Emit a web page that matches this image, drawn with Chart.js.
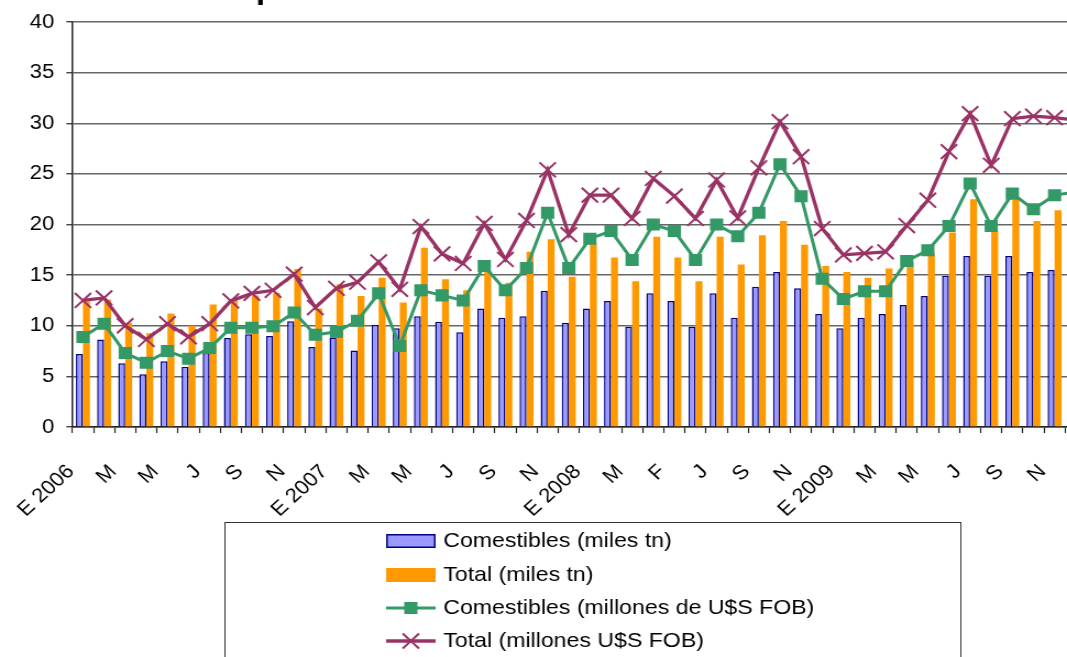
<!DOCTYPE html>
<html>
<head>
<meta charset="utf-8">
<script src="https://cdn.jsdelivr.net/npm/chart.js@4/dist/chart.umd.min.js"></script>
<style>
html,body{margin:0;padding:0;overflow:hidden;width:1067px;height:657px;background:#fff}
#wrap{position:absolute;left:0;top:-30px;width:1000px;height:700px;transform:scaleX(1.1);transform-origin:0 0}
canvas{display:block}
</style>
</head>
<body>
<div id="wrap"><canvas id="c" width="1000" height="700" style="width:1000px;height:700px"></canvas></div>
<script>
const chartTitle = "Exportaciones de Comestibles 2006-2009";

const months = ["E 2006","F","M","A","M","J","J","A","S","O","N","D",
  "E 2007","F","M","A","M","J","J","A","S","O","N","D",
  "E 2008","F","M","A","F","J","J","A","S","O","N","D",
  "E 2009","F","M","A","M","J","J","A","S","O","N","D"];

const comestiblesTn = [7.2,8.65,6.3,5.2,6.5,5.95,7.3,8.8,9.15,9.0,10.45,7.9,
  8.85,7.55,10.1,9.75,10.95,10.4,9.35,11.7,10.8,10.95,13.45,10.3,
  11.7,12.45,9.9,13.2,12.45,9.9,13.2,10.8,13.85,15.3,13.7,11.15,
  9.75,10.8,11.15,12.05,12.95,14.95,16.9,14.95,16.9,15.3,15.5,15.0];

const totalTn = [12.4,12.6,10.3,9.25,11.2,10.0,12.1,12.5,13.0,13.25,15.6,11.7,
  14.1,12.95,14.75,12.3,17.7,14.6,13.5,15.4,14.25,17.3,18.55,14.85,
  18.1,16.75,14.4,18.8,16.75,14.4,18.8,16.05,18.95,20.35,18.0,15.9,
  15.3,14.75,15.65,16.3,17.2,19.2,22.5,19.3,22.5,20.35,21.4,21.0];

const comestiblesUsd = [8.9,10.2,7.3,6.35,7.5,6.75,7.8,9.8,9.8,9.95,11.3,9.1,
  9.4,10.5,13.2,8.0,13.5,13.0,12.5,15.9,13.5,15.7,21.15,15.7,
  18.6,19.35,16.5,20.0,19.35,16.5,20.0,18.85,21.15,25.95,22.8,14.65,
  12.65,13.4,13.4,16.4,17.45,19.85,24.05,19.85,23.05,21.5,22.9,23.2];

const totalUsd = [12.5,12.75,10.0,8.65,10.2,8.9,10.2,12.45,13.2,13.5,15.1,11.8,
  13.7,14.3,16.3,13.6,19.8,17.1,16.15,20.1,16.55,20.4,25.4,19.0,
  22.9,22.9,20.6,24.55,22.8,20.6,24.4,20.65,25.6,30.15,26.7,19.6,
  17.0,17.15,17.3,19.9,22.4,27.2,30.95,25.85,30.45,30.7,30.55,30.3];

const yTicks = [0,5,10,15,20,25,30,35,40];

const FONT = "'Liberation Sans', Arial, Helvetica, sans-serif";

const boxLegend = {
  id: 'boxLegend',
  afterDraw(chart) {
    const ctx = chart.ctx;
    const ds = chart.data.datasets;
    ctx.save();
    ctx.strokeStyle = '#333';
    ctx.lineWidth = 1;
    ctx.strokeRect(204.5, 552.5, 669, 220);
    const sx = 351, sw = 45, tx = 403;
    const ys = [571, 605, 638, 671];
    ctx.font = "21px " + FONT;
    ctx.textBaseline = 'middle';
    ctx.textAlign = 'left';
    ds.forEach((d, i) => {
      const y = ys[i];
      if (d.type === 'bar') {
        ctx.fillStyle = d.backgroundColor;
        ctx.fillRect(sx, y - 7, sw, 14);
        if (d.borderWidth) {
          ctx.strokeStyle = d.borderColor;
          ctx.lineWidth = 1.5;
          ctx.strokeRect(sx + 0.75, y - 6.25, sw - 1.5, 12.5);
        }
      } else {
        ctx.strokeStyle = d.borderColor;
        ctx.lineWidth = d.borderWidth;
        ctx.beginPath();
        ctx.moveTo(sx, y); ctx.lineTo(sx + sw, y);
        ctx.stroke();
        if (d.pointStyle === 'rect') {
          ctx.fillStyle = d.backgroundColor;
          const s = d.pointRadius * Math.SQRT1_2;
          ctx.fillRect(sx + sw / 2 - s, y - s, 2 * s, 2 * s);
        } else {
          ctx.strokeStyle = d.borderColor;
          ctx.lineWidth = d.pointBorderWidth;
          const r = d.pointRadius * Math.SQRT1_2;
          ctx.beginPath();
          ctx.moveTo(sx + sw / 2 - r, y - r); ctx.lineTo(sx + sw / 2 + r, y + r);
          ctx.moveTo(sx + sw / 2 - r, y + r); ctx.lineTo(sx + sw / 2 + r, y - r);
          ctx.stroke();
        }
      }
      ctx.fillStyle = '#000';
      ctx.fillText(d.label, tx, y);
    });
    ctx.restore();
  }
};

new Chart(document.getElementById('c'), {
  type: 'bar',
  data: {
    labels: months,
    datasets: [
      { type: 'bar', label: 'Comestibles (miles tn)', data: comestiblesTn,
        backgroundColor: '#9999FF', borderColor: '#000080', borderWidth: 1.5,
        categoryPercentage: 0.66, barPercentage: 1.0, order: 3 },
      { type: 'bar', label: 'Total (miles tn)', data: totalTn,
        backgroundColor: '#FF9900', borderWidth: 0,
        categoryPercentage: 0.66, barPercentage: 1.0, order: 4 },
      { type: 'line', label: 'Comestibles (millones de U$S FOB)', data: comestiblesUsd,
        borderColor: '#339966', backgroundColor: '#339966', borderWidth: 3,
        pointStyle: 'rect', pointRadius: 8.5, pointBorderWidth: 0,
        pointBackgroundColor: '#339966', tension: 0, order: 2 },
      { type: 'line', label: 'Total (millones U$S FOB)', data: totalUsd,
        borderColor: '#993366', backgroundColor: '#993366', borderWidth: 3.3,
        pointStyle: 'crossRot', pointRadius: 10.5, pointBorderWidth: 2,
        pointBorderColor: '#993366', tension: 0, order: 1 }
    ]
  },
  options: {
    responsive: false,
    maintainAspectRatio: false,
    animation: false,
    events: [],
    layout: { padding: { left: 0, right: 2.5, top: 0, bottom: 128 } },
    plugins: {
      legend: { display: false },
      tooltip: { enabled: false },
      title: {
        display: true, text: chartTitle, color: '#000',
        font: { family: FONT, size: 31, weight: 'bold' },
        padding: { top: 1.2, bottom: 13.6 }
      }
    },
    scales: {
      x: {
        offset: true,
        grid: { display: true, drawOnChartArea: false, drawTicks: true, tickLength: 6,
                tickColor: '#222', tickWidth: 1.2, offset: true },
        border: { display: true, color: '#222', width: 1.5 },
        ticks: {
          autoSkip: false, maxRotation: 45, minRotation: 45, color: '#000',
          font: { family: FONT, size: 20 }, padding: 27, labelOffset: -11,
          callback: (v, i) => (i % 2 === 0 ? months[i] : '')
        },
        afterFit(s) { s.height = 115; s.paddingLeft = 0; s.paddingRight = 0; }
      },
      y: {
        min: 0, max: 40,
        afterBuildTicks(s) { s.ticks = yTicks.map(v => ({ value: v })); },
        grid: { color: '#666', lineWidth: 1.5, tickLength: 5.5, tickColor: '#222', tickWidth: 1.2 },
        border: { display: true, color: '#222', width: 1.5 },
        ticks: { color: '#000', font: { family: FONT, size: 20 }, padding: 11 },
        afterFit(s) { s.width = 65.8; }
      }
    }
  },
  plugins: [boxLegend]
});
</script>
</body>
</html>
